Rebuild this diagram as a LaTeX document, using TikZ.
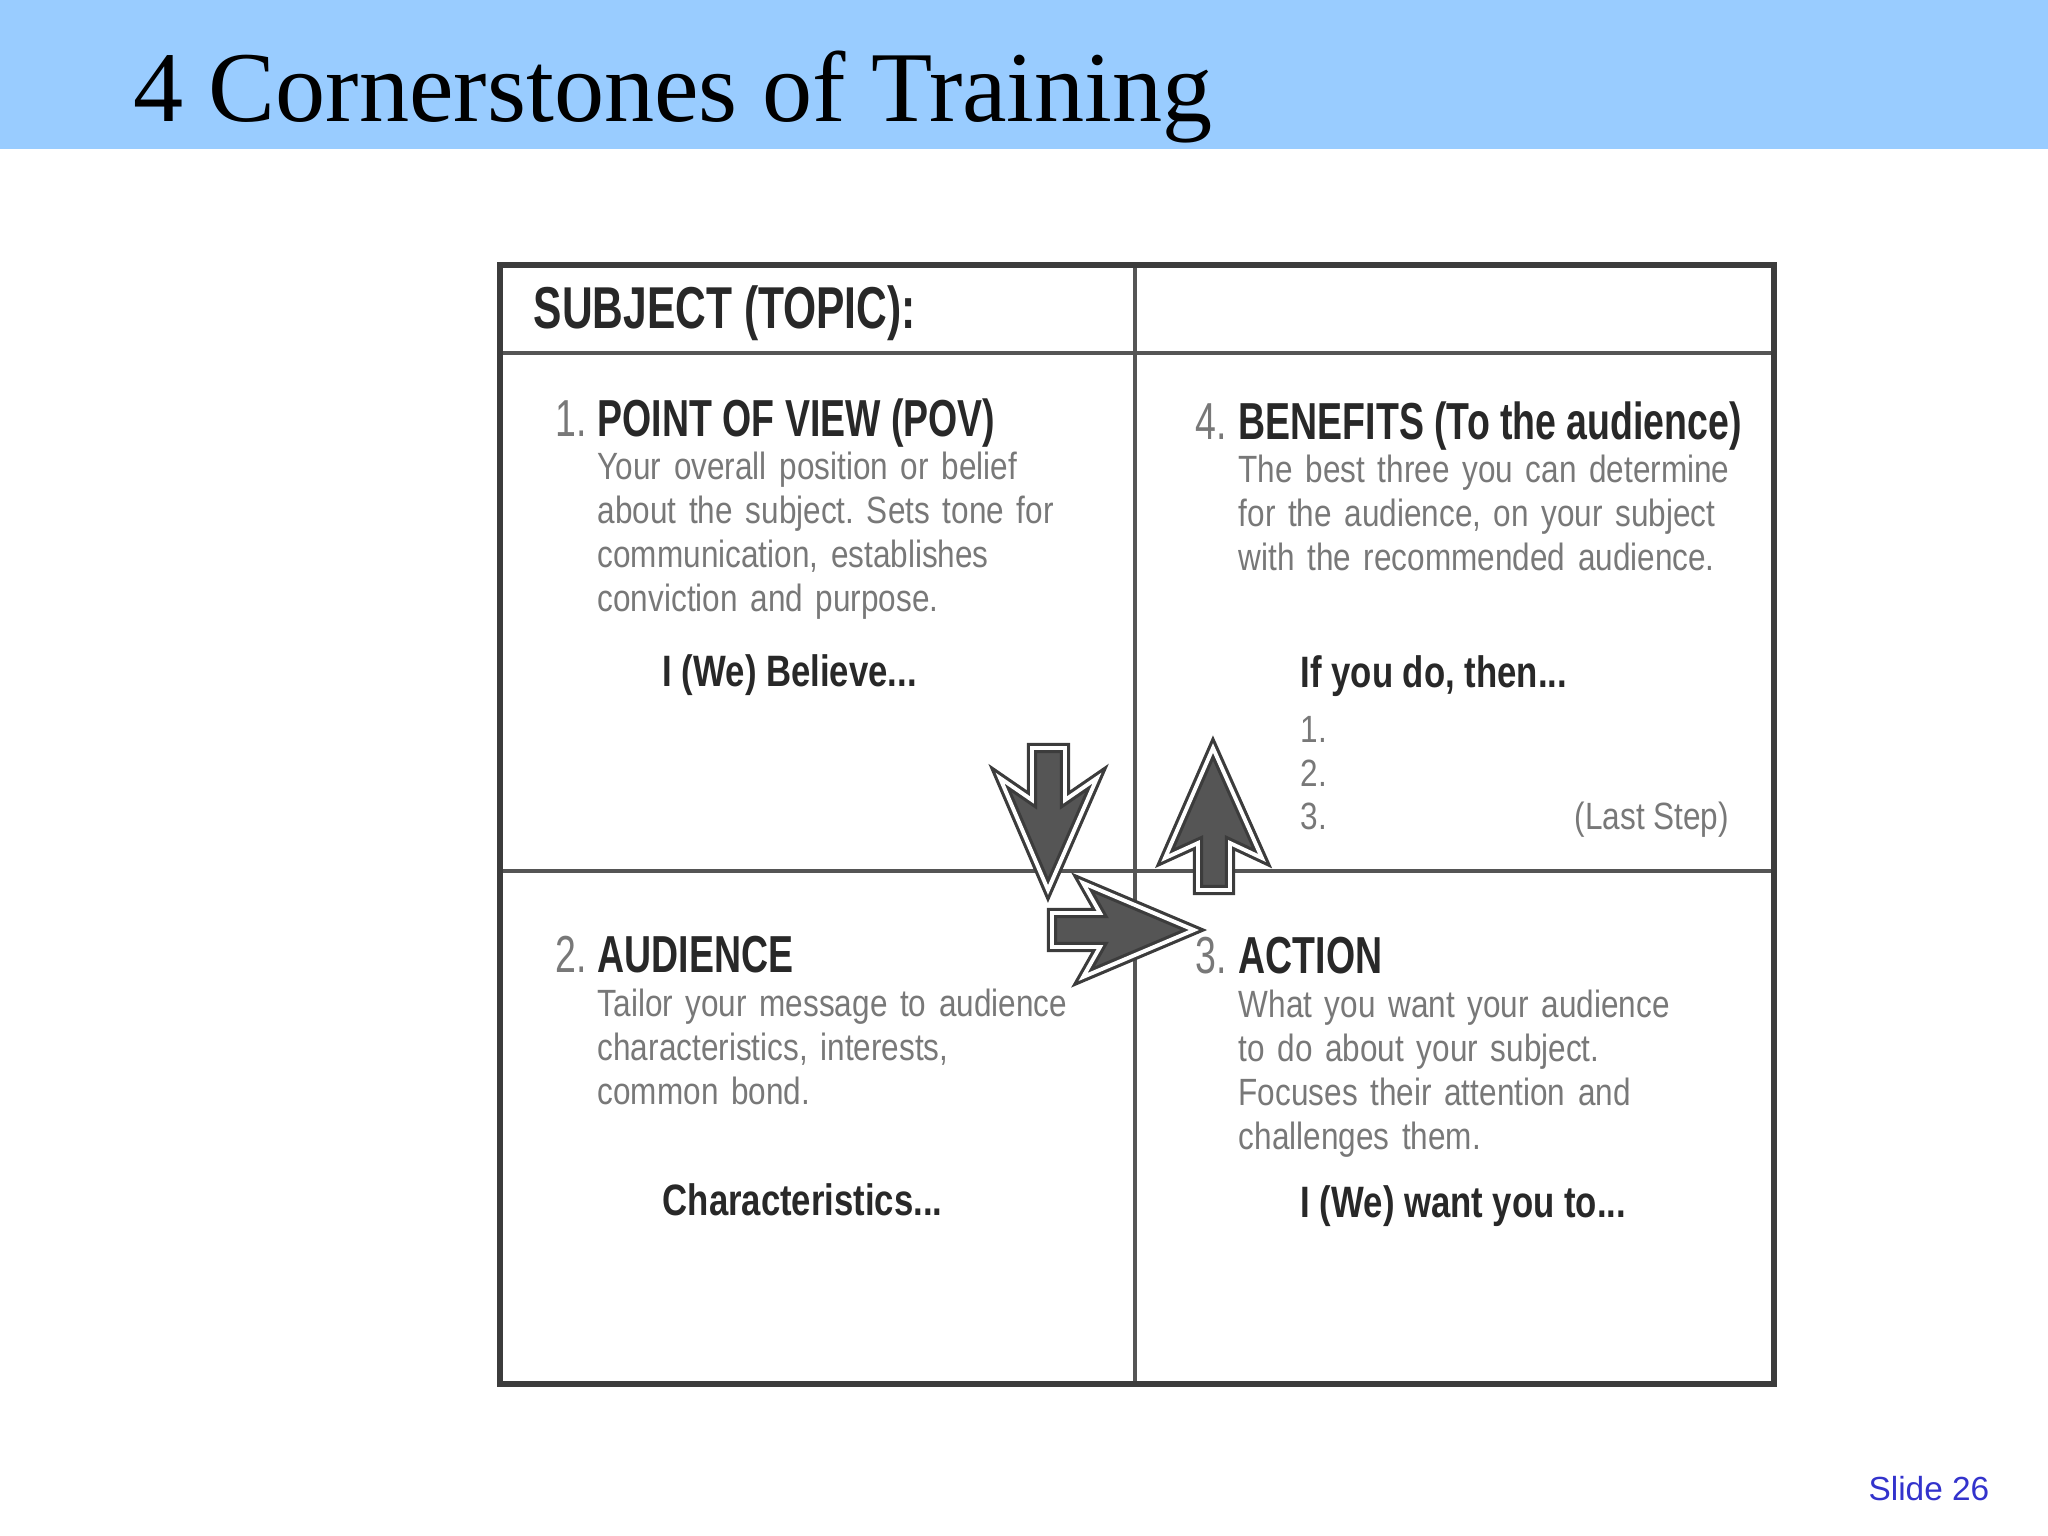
\documentclass[tikz,border=0pt]{standalone}
\usepackage{fontspec}
\setmainfont{Liberation Serif}
\newfontfamily\condfont[FakeStretch=0.72]{Liberation Sans}
\newfontfamily\promptfont[FakeStretch=0.79]{Liberation Sans}
\newfontfamily\bodyfont[FakeStretch=0.83]{Liberation Sans}
\newfontfamily\slidefont{Liberation Sans}
\frenchspacing

\definecolor{bandblue}{RGB}{153,204,255}
\definecolor{framegray}{RGB}{60,60,60}
\definecolor{linegray}{RGB}{85,85,85}
\definecolor{headgray}{RGB}{40,40,40}
\definecolor{bodygray}{RGB}{120,120,120}
\definecolor{arrowfill}{RGB}{85,85,85}
\definecolor{slideblue}{RGB}{51,51,204}

\begin{document}
\begin{tikzpicture}[x=0.01cm,y=-0.01cm,
  heading/.style={anchor=base west,inner sep=0,text=headgray,
    font=\condfont\bfseries\fontsize{14.8}{16}\selectfont},
  number/.style={anchor=base west,inner sep=0,text=bodygray,
    font=\condfont\fontsize{14.8}{16}\selectfont},
  body/.style={anchor=base west,inner sep=0,text=bodygray,text width=6cm,align=left,
    font=\bodyfont\fontsize{10.8}{12.6}\selectfont},
  prompt/.style={anchor=base west,inner sep=0,text=headgray,
    font=\promptfont\bfseries\fontsize{12.5}{14}\selectfont},
  blockarrow/.style={fill=arrowfill,draw=framegray,double=white,double distance=1.1pt,
    line width=0.9pt,line join=miter,miter limit=6}]
\useasboundingbox (0,0) rectangle (2048,1536);

% title band
\fill[bandblue] (0,0) rectangle (2048,149);
\node[anchor=base west,inner sep=0,font=\fontsize{28.5}{31}\selectfont] (title) at (133,121) {4 Cornerstones of Training};

% frame
\coordinate (nw) at (500,265);
\coordinate (se) at (1774,1384);
\coordinate (hd) at (500,353);
\coordinate (mid) at (1135,871);
\draw[linegray,line width=1.1pt] (nw |- hd) -- (se |- hd);
\draw[linegray,line width=1.1pt] (nw |- mid) -- (se |- mid);
\draw[linegray,line width=1.1pt] (mid |- nw) -- (mid |- se);
\draw[framegray,line width=1.7pt] (nw) rectangle (se);

\node[heading,font=\condfont\bfseries\fontsize{16.8}{18}\selectfont] (subject) at (533,328) {SUBJECT (TOPIC):};

% 1. point of view
\node[number] (n1) at (555,436) {1.};
\node[heading] (pov) at (597,436) {POINT OF VIEW (POV)};
\node[body] (povtext) at (597,479) {Your overall position or belief\\
about the subject. Sets tone for\\communication, establishes\\conviction and purpose.};
\node[prompt] (believe) at (662,686) {I (We) Believe...};

% 4. benefits
\node[number] (n4) at (1195,439) {4.};
\node[heading] (benefits) at (1238,439) {BENEFITS (To the audience)};
\node[body] (bentext) at (1238,482) {The best three you can determine\\
for the audience, on your subject\\with the recommended audience.};
\node[prompt] (ifyou) at (1300,687) {If you do, then...};
\node[body] (b1) at (1300,742) {1.};
\node[body] (b2) at (1300,786) {2.};
\node[body] (b3) at (1300,829) {3.};
\node[body,text width=,anchor=base west] (last) at (1574,829) {(Last Step)};

% 2. audience
\node[number] (n2) at (555,972) {2.};
\node[heading] (audience) at (597,972) {AUDIENCE};
\node[body] (audtext) at (597,1016) {Tailor your message to audience\\
characteristics, interests,\\common bond.};
\node[prompt] (charac) at (662,1215) {Characteristics...};

% 3. action
\node[number] (n3) at (1195,973) {3.};
\node[heading] (action) at (1238,973) {ACTION};
\node[body] (acttext) at (1238,1017) {What you want your audience\\
to do about your subject.\\Focuses their attention and\\challenges them.};
\node[prompt] (wantyou) at (1300,1217) {I (We) want you to...};

% arrows
\draw[blockarrow] (1032,748) -- (1032,800) -- (1000,778) -- (1048,890)
  -- (1097,778) -- (1065,800) -- (1065,748) -- cycle;
\draw[blockarrow] (1052,913) -- (1100,913) -- (1083,883) -- (1194,930)
  -- (1083,977) -- (1100,947) -- (1052,947) -- cycle;
\draw[blockarrow] (1198,890) -- (1198,843) -- (1165,858) -- (1213,748)
  -- (1262,858) -- (1230,843) -- (1230,890) -- cycle;

\node[anchor=base east,inner sep=0,text=slideblue,font=\slidefont\fontsize{9.5}{11}\selectfont] (slideno) at (1990,1500) {Slide 26};
\end{tikzpicture}
\end{document}
